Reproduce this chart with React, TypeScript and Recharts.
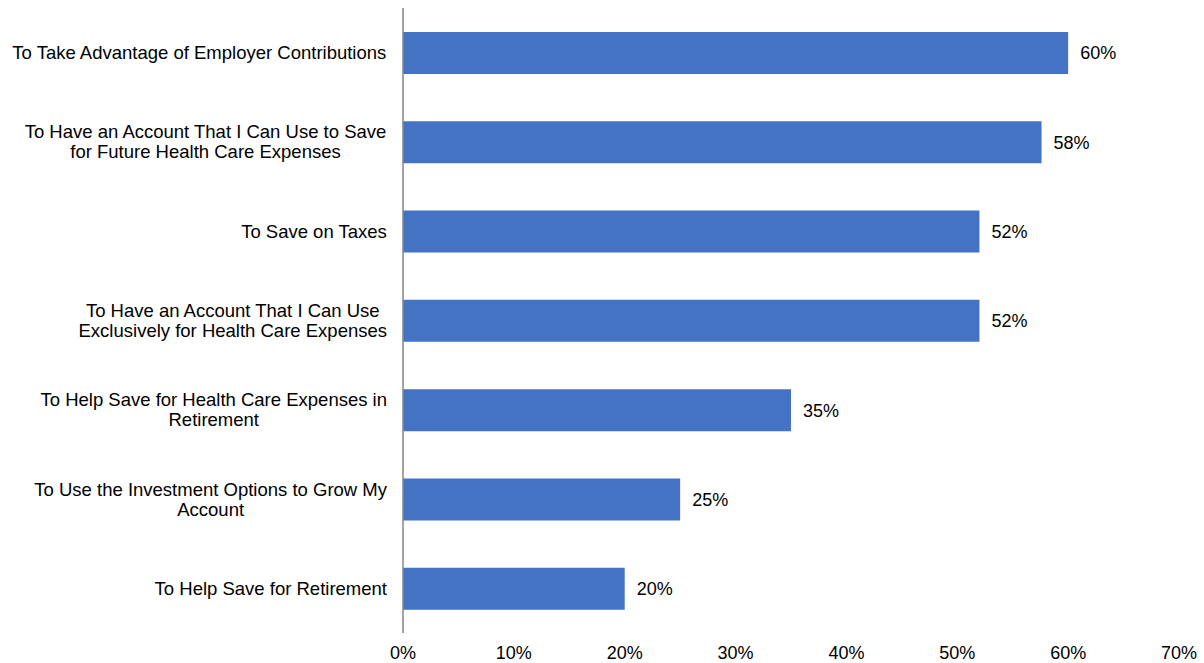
import { BarChart, Bar, XAxis, YAxis, LabelList } from 'recharts'

const reasons = [
    ['To Take Advantage of Employer Contributions'],
    ['To Have an Account That I Can Use to Save', 'for Future Health Care Expenses'],
    ['To Save on Taxes'],
    ['To Have an Account That I Can Use', 'Exclusively for Health Care Expenses'],
    ['To Help Save for Health Care Expenses in', 'Retirement'],
    ['To Use the Investment Options to Grow My', 'Account'],
    ['To Help Save for Retirement'],
]
const shares = [60, 57.6, 52, 52, 35, 25, 20]
const xTicks = [0, 10, 20, 30, 40, 50, 60, 70]

const FONT = 'Liberation Sans, Arial, sans-serif'
const FS = 18
const CAT_FS = 18.5

const data = reasons.map((lines, i) => ({
    reason: lines.join('\n'),
    share: shares[i],
}))

let measureCtx: CanvasRenderingContext2D | null = null
function textWidth(s: string) {
    if (!measureCtx) {
        measureCtx = document.createElement('canvas').getContext('2d')
    }
    if (!measureCtx) return s.length * 9
    measureCtx.font = `${CAT_FS}px ${FONT}`
    return measureCtx.measureText(s).width
}

function ReasonTick(props: any) {
    const { x, y, payload } = props
    const lines: string[] = String(payload.value).split('\n')
    const w = Math.max(...lines.map(textWidth))
    const cx = x - w / 2
    const lh = 20
    const top = y - ((lines.length - 1) * lh) / 2
    return (
        <text textAnchor='middle' fill='#000' fontSize={CAT_FS} fontFamily={FONT}>
            {lines.map((l, i) => (
                <tspan key={i} x={cx} y={top + i * lh} dy='0.355em'>
                    {l}
                </tspan>
            ))}
        </text>
    )
}

function PctTick(props: any) {
    const { x, y, payload } = props
    return (
        <text x={x} y={y + 18} textAnchor='middle' fill='#000' fontSize={FS} fontFamily={FONT}>
            {`${payload.value}%`}
        </text>
    )
}

export default function App() {
    return (
        <div style={{ position: 'absolute', left: 0, top: 0, background: '#fff' }}>
            <BarChart
                width={1204}
                height={663}
                data={data}
                layout='vertical'
                margin={{ top: 8, right: 25, left: 0, bottom: 0 }}
                barCategoryGap='26%'
            >
                <XAxis
                    type='number'
                    domain={[0, 70]}
                    ticks={xTicks}
                    axisLine={false}
                    tickLine={false}
                    height={30}
                    tick={<PctTick />}
                    interval={0}
                />
                <YAxis
                    type='category'
                    dataKey='reason'
                    width={403}
                    axisLine={{ stroke: '#868686', strokeWidth: 1.5 }}
                    tickLine={false}
                    tickSize={0}
                    tickMargin={16}
                    tick={<ReasonTick />}
                    interval={0}
                />
                <Bar dataKey='share' fill='#4472C4' barSize={42} isAnimationActive={false}>
                    <LabelList
                        dataKey='share'
                        position='right'
                        offset={12}
                        fill='#000'
                        fontSize={FS}
                        fontFamily={FONT}
                        formatter={(v: any) => `${Math.round(Number(v))}%`}
                    />
                </Bar>
            </BarChart>
        </div>
    )
}
